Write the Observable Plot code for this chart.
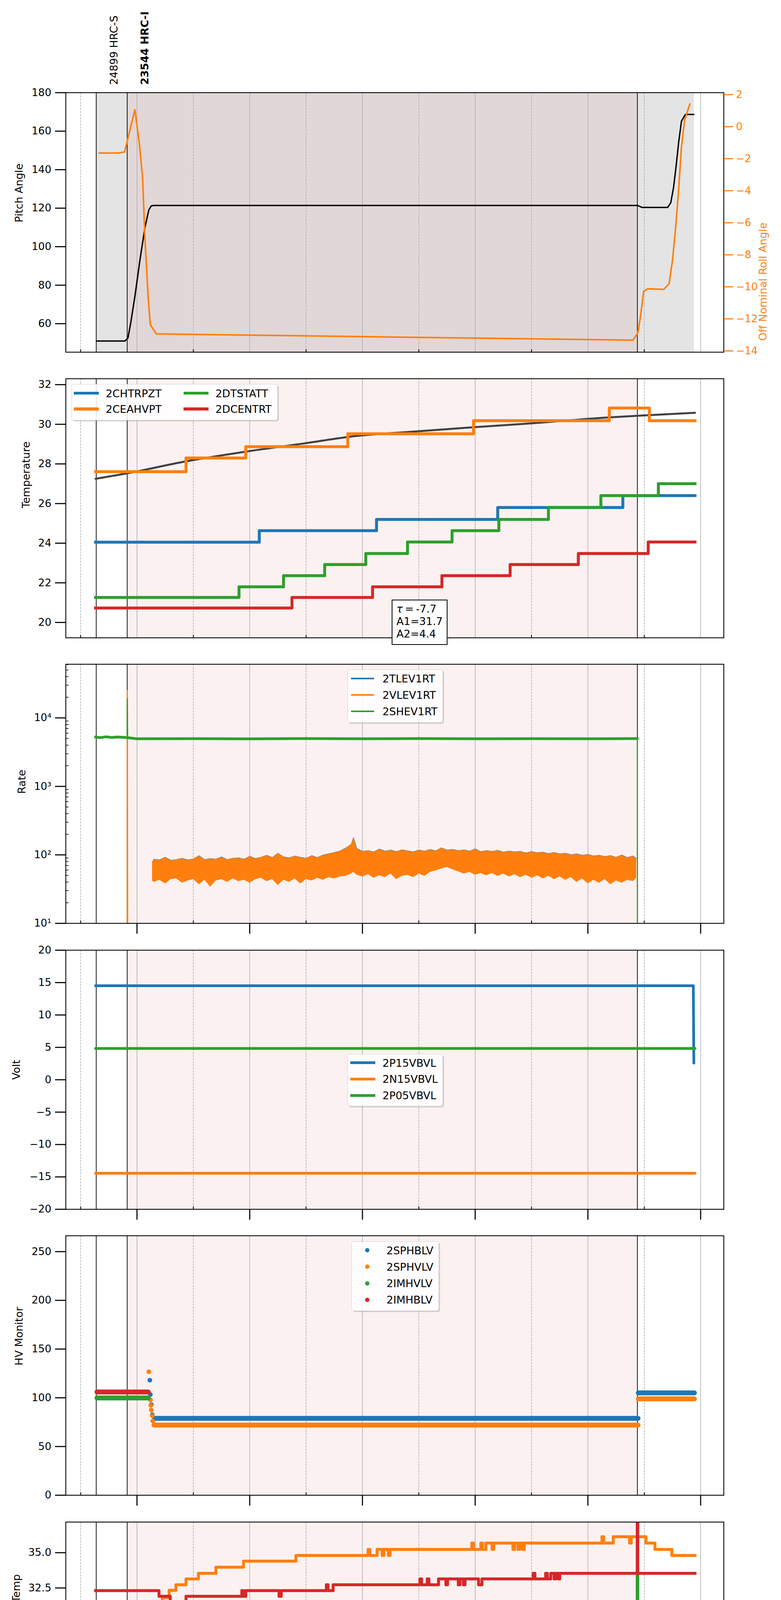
<!DOCTYPE html>
<html>
<head>
<meta charset="utf-8">
<script src="https://cdn.jsdelivr.net/npm/d3@7"></script>
<script src="https://cdn.jsdelivr.net/npm/@observablehq/plot@0.6"></script>
<style>
  html, body { margin: 0; padding: 0; background: #ffffff; }
  #fig { position: relative; width: 2000px; height: 5400px; font-family: "DejaVu Sans", sans-serif; color: #000; overflow: hidden; background: #fff; }
  #fig > svg { position: absolute; left: 0; }
  .lgbox { position: absolute; box-sizing: border-box; background: rgba(255,255,255,0.86); border: 1.5px solid #d2d2d2; border-radius: 6px; box-shadow: 3px 3px 0 rgba(140,140,140,0.35); }
  .lgtext { position: absolute; font-size: 27px; line-height: 27px; white-space: nowrap; }
  .lgh { position: absolute; }
  .tbox { position: absolute; box-sizing: border-box; background: #fff; border: 2px solid #000; }
</style>
</head>
<body>
<div id="fig"></div>
<script>
// ---------------- time axis (hours since 2020-12-15 00:00 UTC) ----------------
const X_DOMAIN = [18.737, 30.411];
const EVEN_H = [20, 22, 24, 26, 28, 30];
const ODD_H = [19, 21, 23, 25, 27, 29];
const MAJOR_LABELS = ["20h", "22h", "00h", "02h", "04h", "06h"];
const MINOR_LABELS = ["19h", "21h", "23h", "01h", "03h", "05h"];
const X_LABEL = "2020-12-16 (351)";

// observations
const OBS_LABELS = ["24899 HRC-S", "23544 HRC-I"];
const OBS_START = [19.277, 19.826];
const OBS_BOLD = [false, true];
const OBS_LINES = [19.277, 19.826, 28.878];
const HRCI_SPAN = [19.826, 28.878];
const SPAN_ALL = [19.277, 29.884];

// ---------------- panel 1: pitch / roll ----------------
const PITCH = [[19.283,51.0],[19.786,51.0],[19.84,52.6],[19.89,60.6],[19.963,74.2],[20.05,92.6],[20.14,109.8],[20.21,119.1],[20.254,121.2],[20.30,121.4],[28.885,121.4],[28.956,120.4],[29.415,120.4],[29.47,122.8],[29.52,130.8],[29.565,141.8],[29.61,154.2],[29.66,165.2],[29.73,168.7],[29.88,168.7]];
const ROLL = [[19.327,-1.65],[19.67,-1.65],[19.78,-1.58],[19.963,1.05],[20.04,-0.99],[20.10,-3.21],[20.14,-6.90],[20.20,-10.75],[20.237,-12.37],[20.343,-12.94],[28.797,-13.33],[28.885,-12.89],[28.93,-11.93],[28.99,-10.27],[29.06,-10.13],[29.345,-10.16],[29.44,-9.81],[29.50,-8.38],[29.557,-6.31],[29.61,-3.94],[29.66,-1.28],[29.716,0.42],[29.81,1.42]];
const PITCH_TICKS = [60, 80, 100, 120, 140, 160, 180];
const ROLL_TICKS = [2, 0, -2, -4, -6, -8, -10, -12, -14];

// ---------------- panel 2: temperature ----------------
const CHTRPZT = [[19.265,24.05],[22.17,24.63],[24.25,25.20],[26.40,25.80],[28.62,26.40],[29.90,26.40]];
const CEAHVPT = [[19.265,27.61],[20.87,28.30],[21.93,28.87],[23.74,29.52],[25.97,30.18],[28.38,30.82],[29.09,30.18],[29.90,30.18]];
const DTSTATT = [[19.265,21.26],[21.81,21.80],[22.60,22.36],[23.33,22.92],[24.06,23.48],[24.80,24.06],[25.59,24.63],[26.42,25.20],[27.30,25.80],[28.23,26.40],[29.25,27.00],[29.90,27.00]];
const DCENTRT = [[19.265,20.73],[22.75,21.26],[24.18,21.80],[25.41,22.36],[26.62,22.92],[27.83,23.48],[29.07,24.06],[29.90,24.06]];
const FIT = [[19.265,27.25],[19.83,27.53],[20.87,28.13],[21.93,28.62],[23.0,29.05],[23.74,29.36],[24.9,29.63],[25.97,29.85],[27.0,30.05],[28.38,30.35],[29.09,30.46],[29.9,30.58]];
const FIT_TEXT = ["τ\u2009=\u2009-7.7", "A1=31.7", "A2=4.4"];
const TEMP_TICKS = [20, 22, 24, 26, 28, 30, 32];

// ---------------- panel 3: rates ----------------
const VLEV_T = [20.27,20.3,20.4,20.5,20.6,20.7,20.8,20.9,21.0,21.1,21.2,21.3,21.4,21.5,21.6,21.7,21.8,21.9,22.0,22.1,22.2,22.3,22.4,22.5,22.6,22.7,22.8,22.9,23.0,23.1,23.2,23.3,23.4,23.5,23.6,23.7,23.8,23.84,23.9,24.0,24.1,24.2,24.3,24.4,24.5,24.6,24.7,24.8,24.9,25.0,25.1,25.2,25.3,25.4,25.5,25.6,25.7,25.8,25.9,26.0,26.1,26.2,26.3,26.4,26.5,26.6,26.7,26.8,26.9,27.0,27.1,27.2,27.3,27.4,27.5,27.6,27.7,27.8,27.9,28.0,28.1,28.2,28.3,28.4,28.5,28.6,28.7,28.8,28.86];
const VLEV_HI = [78, 86,84,92,83,85,89,84,87,97,85, 88,86,93,85,89,90,86,95,88,92, 98,91,105,93,90,96,92,89,97,91, 99,103,108,113,125,142, 178, 124,112,115,110,121,113,117,111,118,114, 110,117,113,119,114,126,117,120,115,118, 113,122,111,115,112,116,109,113,110,112, 106,111,107,109,104,108,103,105,100,103, 98,101,96,98,94,97,92,99,91,96, 88];
const VLEV_LO = [42, 40,43,38,44,45,39,42,44,37,43, 34,42,44,40,45,41,43,39,44,46, 41,44,36,43,40,45,38,44,42,46, 43,47,45,48,49,53, 56, 51,48,52,46,50,47,53,44,49,51, 47,53,49,56,59,63,66,61,57,53, 56,51,54,50,54,49,53,48,52,47, 51,46,50,45,49,44,48,43,47,40, 45,38,43,39,44,37,42,39,43,41, 46];
const VLEV_SPIKE = [[19.826,1],[19.828,25000],[19.836,1]];
const SHEV = [[19.265,5250],[19.35,5150],[19.45,5300],[19.55,5180],[19.65,5260],[19.75,5200],[19.826,5150],[20.0,4950],[21.0,4980],[22.0,4940],[23.0,4990],[24.0,4960],[25.0,4990],[26.0,4950],[27.0,4980],[28.0,4960],[28.877,4990]];
const SHEV_SPIKE = [[19.826,5150],[19.828,19000],[19.834,4950]];
const SHEV_DROP = [[28.877,4990],[28.879,1]];
const RATE_TICKS = [10, 100, 1000, 10000];
const RATE_LABELS = ["10¹", "10²", "10³", "10⁴"];
const RATE_MINOR = [20,30,40,50,60,70,80,90,200,300,400,500,600,700,800,900,2000,3000,4000,5000,6000,7000,8000,9000,20000,30000,40000,50000,60000];

// ---------------- panel 4: volts ----------------
const P15VBVL = [[19.265,14.51],[29.87,14.51],[29.88,2.58]];
const N15VBVL = [[19.265,-14.43],[29.90,-14.43]];
const P05VBVL = [[19.265,4.84],[29.90,4.84]];
const VOLT_TICKS = [-20, -15, -10, -5, 0, 5, 10, 15, 20];

// ---------------- panel 5: HV monitor ----------------
const SPHBLV_RUNS = [[[20.31,78.9],[28.89,78.9]], [[28.895,105.0],[29.89,105.0]]];
const SPHBLV_PTS = [[20.228,118.1],[20.237,103.3],[20.254,93.0],[20.272,82.6]];
const SPHVLV_RUNS = [[[20.30,72.0],[28.89,72.0]], [[28.895,98.9],[29.89,98.9]]];
const SPHVLV_PTS = [[20.21,126.7],[20.237,97.9],[20.246,92.2],[20.254,87.4],[20.272,81.6],[20.28,76.2]];
const IMHVLV_RUNS = [[[19.29,99.8],[20.20,99.8]]];
const IMHBLV_RUNS = [[[19.29,106.0],[20.20,106.0]]];
const HV_TICKS = [0, 50, 100, 150, 200, 250];

// ---------------- panel 6: detector temperatures ----------------
const SPINATM = [[19.265,19.62],[20.49,20.31],[20.53,19.62],[20.57,20.31],[20.60,19.62],[20.65,20.31],[22.97,21.03],[24.73,21.71],[26.26,22.49],[26.30,21.71],[26.48,22.43],[28.27,23.14],[28.875,24.55],[28.885,23.14],[29.90,23.14]];
const SPHVATM = [[19.265,31.51],[20.27,31.11],[20.35,31.51],[20.45,31.82],[20.57,32.33],[20.69,32.73],[20.87,33.14],[21.09,33.54],[21.40,33.97],[21.89,34.40],[22.82,34.80],[24.10,35.23],[24.13,34.80],[24.26,35.23],[24.35,34.80],[24.38,35.23],[24.46,34.80],[24.49,35.23],[25.94,35.68],[25.97,35.23],[26.10,35.68],[26.13,35.23],[26.19,35.68],[26.30,35.23],[26.33,35.68],[26.67,35.23],[26.70,35.68],[26.76,35.23],[26.79,35.68],[26.84,35.23],[26.87,35.68],[28.25,36.13],[28.28,35.68],[28.45,36.13],[28.74,35.68],[28.77,36.13],[29.03,35.68],[29.19,35.23],[29.49,34.80],[29.90,34.80]];
const IMINATM = [[19.265,21.0],[21.91,21.70],[23.38,22.41],[24.69,23.16],[26.01,23.89],[27.28,24.64],[27.31,23.89],[27.41,24.64],[28.875,33.5],[28.885,24.64],[28.93,25.41],[29.90,25.41]];
const IMHVATM = [[19.265,32.31],[20.39,31.91],[20.59,31.51],[20.87,31.91],[21.86,32.31],[21.89,31.91],[21.93,32.31],[22.52,31.91],[22.56,32.31],[23.36,32.73],[23.39,32.31],[23.48,32.73],[25.02,33.14],[25.05,32.73],[25.15,33.14],[25.18,32.73],[25.35,33.14],[25.48,32.73],[25.51,33.14],[25.70,32.73],[25.73,33.14],[25.79,32.73],[25.82,33.14],[26.06,32.73],[26.12,33.14],[27.03,33.54],[27.06,33.14],[27.25,33.54],[27.28,33.14],[27.34,33.54],[27.40,33.14],[27.43,33.54],[27.47,33.14],[27.50,33.54],[28.875,39],[28.885,33.54],[29.90,33.54]];
const DET_TICKS = [20, 22.5, 25, 27.5, 30, 32.5, 35];

// ---------------- panel 7: FEA temperatures ----------------
const FHTRMZT = [[19.265,23.47],[20.70,24.04],[21.14,24.63],[21.60,25.21],[22.07,25.80],[22.58,26.41],[23.10,27.00],[23.67,27.62],[24.29,28.24],[24.94,28.87],[25.68,29.51],[26.46,30.16],[27.31,30.82],[28.27,31.49],[29.565,32.1],[29.71,31.49],[29.90,31.49]];
const FRADPYT = [[19.265,20.6],[21.005,21.26],[21.36,21.81],[21.765,22.37],[22.23,22.91],[22.73,23.47],[23.26,24.04],[23.83,24.63],[24.45,25.21],[25.10,25.80],[25.84,26.41],[26.61,27.00],[27.47,27.62],[28.42,28.24],[29.57,27.62],[29.90,27.62]];
const FEPRATM = [[19.265,25.39],[19.645,24.63],[20.51,25.39],[21.25,26.18],[21.94,26.97],[22.73,27.77],[23.57,28.58],[24.53,29.43],[25.62,30.26],[26.84,31.12],[28.29,31.95],[29.90,31.95]];
const FE00ATM = [[19.265,22.97],[20.387,23.31],[20.466,22.97],[20.49,23.31],[20.70,23.62],[20.80,24.31],[20.825,23.62],[21.02,23.96],[21.24,24.31],[21.265,23.96],[21.33,24.27],[21.38,24.64],[21.405,24.27],[21.67,24.63],[21.69,24.99],[21.715,24.63],[22.02,24.97],[22.14,25.66],[22.165,24.97],[22.20,24.60],[22.225,24.97],[22.27,25.66],[22.295,24.97],[22.39,25.30],[22.63,25.66],[22.655,25.30],[22.77,25.62],[22.82,26.00],[22.845,25.62],[23.17,25.99],[23.26,23.91],[23.285,25.99],[23.52,25.58],[23.545,25.99],[23.57,26.32],[23.85,26.71],[23.875,26.32],[23.96,25.91],[23.985,26.32],[24.00,26.69],[24.11,25.58],[24.135,26.69],[24.22,27.05],[24.245,26.69],[24.47,27.03],[24.50,27.79],[24.525,27.03],[24.58,26.65],[24.605,27.03],[24.69,26.25],[24.715,27.03],[24.82,27.40],[24.845,27.03],[24.94,27.40],[25.00,28.13],[25.025,27.40],[25.27,28.13],[25.295,27.40],[25.38,28.87],[25.405,27.40],[25.44,27.75],[25.60,26.65],[25.625,27.75],[25.79,29.25],[25.815,27.75],[25.95,28.87],[25.975,27.75],[26.01,28.12],[26.19,28.87],[26.215,28.12],[26.37,27.34],[26.395,28.12],[26.42,27.70],[26.445,28.12],[26.59,28.46],[26.70,26.97],[26.725,28.46],[26.90,29.05],[26.925,28.46],[26.97,29.25],[26.995,28.46],[27.14,28.83],[27.30,28.08],[27.325,28.83],[27.65,30.00],[27.675,28.83],[27.80,28.08],[27.825,29.21],[27.91,28.46],[27.935,29.21],[28.22,28.79],[28.245,29.21],[28.56,29.57],[28.80,30.38],[28.825,29.57],[28.875,32.5],[28.9,29.57],[29.90,29.57]];
const FEA_TICKS = [22, 24, 26, 28, 30];

// ---------------- layout ----------------
const fig = document.getElementById("fig");
const W = 2000, ML = 168, MR = 147;
const FW = W - ML - MR;
const PANELS = [[236.7, 901.1], [969.2, 1632.5], [1700, 2363.3], [2432, 3095.3], [3163.4, 3827.7], [3895.8, 4559.1], [4627.5, 5291.3]];
const COL = {blue: "#1f77b4", orange: "#ff7f0e", green: "#2ca02c", red: "#d62728"};
const T0 = Date.UTC(2020, 11, 15);
const H = h => new Date(T0 + h * 3600000);
const pts = a => a.map(([t, v]) => ({t: H(t), v}));
const minus = d => (d < 0 ? "\u2212" + Math.abs(d) : String(d));

function bgMarks(grey) {
  return [
    grey ? Plot.rect([0], {x1: () => H(SPAN_ALL[0]), x2: () => H(SPAN_ALL[1]), fill: "#000", fillOpacity: 0.105}) : null,
    Plot.rect([0], {x1: () => H(HRCI_SPAN[0]), x2: () => H(HRCI_SPAN[1]), fill: COL.red, fillOpacity: 0.065}),
    Plot.ruleX(EVEN_H, {x: H, stroke: "#b0b0b0", strokeWidth: 1.6}),
    Plot.ruleX(ODD_H, {x: H, stroke: "#b0b0b0", strokeWidth: 1.6, strokeDasharray: "5.5,2.4"}),
    Plot.ruleX(OBS_LINES, {x: H, stroke: "#000", strokeWidth: 1.8})
  ];
}
function frameMarks(fh, major) {
  return [
    Plot.ruleX(ODD_H, {x: H, insetTop: fh - 7, stroke: "#000", strokeWidth: 2}),
    major ? Plot.ruleX(EVEN_H, {x: H, insetTop: fh, insetBottom: -27, stroke: "#000", strokeWidth: 2.8}) : null,
    Plot.frame({stroke: "#000", strokeWidth: 2.2})
  ];
}
function yAxis(ticks, fmt) {
  return Plot.axisY({ticks, tickFormat: fmt, tickSize: 27, tickPadding: 10, fontSize: 26.5, strokeWidth: 2.8, label: null});
}
function yLabel(text, cx) {
  return Plot.text([text], {text: d => d, frameAnchor: "left", rotate: -90, dx: cx - ML, lineAnchor: "middle", fontSize: 27});
}
function stepLine(data, color, w) {
  return Plot.line(pts(data), {x: "t", y: "v", stroke: color, strokeWidth: w, curve: "step-after", strokeLinejoin: "round", strokeLinecap: "square", clip: true});
}
function addPlot(pi, {mt = 40, mb = 60, y, marks}) {
  const [top, bottom] = PANELS[pi];
  const fh = bottom - top;
  const svg = Plot.plot({
    width: W, height: mt + fh + mb,
    marginLeft: ML, marginRight: MR, marginTop: mt, marginBottom: mb,
    x: {type: "utc", domain: [H(X_DOMAIN[0]), H(X_DOMAIN[1])], axis: null},
    y: {...y, axis: null},
    style: {fontFamily: "DejaVu Sans", fontSize: "26.5px", background: "transparent", color: "#000", overflow: "visible"},
    marks: typeof marks === "function" ? marks(fh) : marks
  });
  svg.style.position = "absolute";
  svg.style.left = "0px";
  svg.style.top = (top - mt) + "px";
  fig.appendChild(svg);
}

// ---- panel 1 ----
addPlot(0, {mt: PANELS[0][0], y: {domain: [45.2, 180]}, marks: fh => [
  ...bgMarks(true),
  Plot.line(pts(PITCH), {x: "t", y: "v", stroke: "#000", strokeWidth: 3.5, clip: true}),
  yAxis(PITCH_TICKS),
  yLabel("Pitch Angle", 48.5),
  Plot.text([0, 1].filter(i => !OBS_BOLD[i]), {x: i => H(OBS_START[i]), text: i => OBS_LABELS[i], frameAnchor: "top", dy: -20, dx: 46, rotate: -90, textAnchor: "start", lineAnchor: "middle", fontSize: 27}),
  Plot.text([0, 1].filter(i => OBS_BOLD[i]), {x: i => H(OBS_START[i]), text: i => OBS_LABELS[i], frameAnchor: "top", dy: -20, dx: 46, rotate: -90, textAnchor: "start", lineAnchor: "middle", fontSize: 27, fontWeight: "bold"}),
  ...frameMarks(fh, false)
]});
addPlot(0, {mt: PANELS[0][0], y: {domain: [-14.08, 2.12]}, marks: [
  Plot.line(pts(ROLL), {x: "t", y: "v", stroke: COL.orange, strokeWidth: 4, clip: true}),
  Plot.axisY({anchor: "right", ticks: ROLL_TICKS, tickFormat: minus, tickSize: 24, tickPadding: 7, fontSize: 26.5, strokeWidth: 2.8, stroke: COL.orange, fill: COL.orange, label: null}),
  Plot.text(["Off Nominal Roll Angle"], {text: d => d, frameAnchor: "right", rotate: -90, dx: 101, lineAnchor: "middle", fontSize: 27, fill: COL.orange})
]});

// ---- panel 2 ----
addPlot(1, {y: {domain: [19.225, 32.30]}, marks: fh => [
  ...bgMarks(false),
  Plot.line(pts(FIT), {x: "t", y: "v", stroke: "#404040", strokeWidth: 5, curve: "monotone-x", clip: true}),
  stepLine(CHTRPZT, COL.blue, 7.5),
  stepLine(CEAHVPT, COL.orange, 7.5),
  stepLine(DTSTATT, COL.green, 7.5),
  stepLine(DCENTRT, COL.red, 7.5),
  yAxis(TEMP_TICKS),
  yLabel("Temperature", 66.4),
  ...frameMarks(fh, false)
]});

// ---- panel 3 ----
const vlev = VLEV_T.map((t, i) => ({t: H(t), lo: VLEV_LO[i], hi: VLEV_HI[i]}));
addPlot(2, {y: {type: "log", domain: [10, 60700]}, marks: fh => [
  ...bgMarks(false),
  Plot.line(vlev, {x: "t", y: "hi", stroke: COL.blue, strokeWidth: 1.2, dy: -0.6, clip: true}),
  Plot.line(pts(VLEV_SPIKE), {x: "t", y: "v", stroke: COL.orange, strokeWidth: 3, clip: true}),
  Plot.areaY(vlev, {x: "t", y1: "lo", y2: "hi", fill: COL.orange, clip: true}),
  Plot.line(pts(SHEV), {x: "t", y: "v", stroke: COL.green, strokeWidth: 7, clip: true}),
  Plot.line(pts(SHEV_SPIKE), {x: "t", y: "v", stroke: COL.green, strokeWidth: 3, clip: true}),
  Plot.line(pts(SHEV_DROP), {x: "t", y: "v", stroke: COL.green, strokeWidth: 3, clip: true}),
  Plot.ruleY(RATE_MINOR, {y: d => d, insetRight: FW - 7.5, stroke: "#000", strokeWidth: 1.6}),
  yAxis(RATE_TICKS, d => RATE_LABELS[RATE_TICKS.indexOf(d)]),
  yLabel("Rate", 56.2),
  ...frameMarks(fh, true)
]});

// ---- panel 4 ----
addPlot(3, {y: {domain: [-20, 20]}, marks: fh => [
  ...bgMarks(false),
  Plot.line(pts(P15VBVL), {x: "t", y: "v", stroke: COL.blue, strokeWidth: 7, clip: true}),
  Plot.line(pts(N15VBVL), {x: "t", y: "v", stroke: COL.orange, strokeWidth: 7, clip: true}),
  Plot.line(pts(P05VBVL), {x: "t", y: "v", stroke: COL.green, strokeWidth: 7, clip: true}),
  yAxis(VOLT_TICKS, minus),
  yLabel("Volt", 42.1),
  ...frameMarks(fh, true)
]});

// ---- panel 5 ----
const runMarks = (runs, color) => runs.map(r => Plot.line(pts(r), {x: "t", y: "v", stroke: color, strokeWidth: 12.5, strokeLinecap: "round", clip: true}));
addPlot(4, {y: {domain: [0, 266.3]}, marks: fh => [
  ...bgMarks(false),
  ...runMarks(SPHBLV_RUNS, COL.blue),
  Plot.dot(pts(SPHBLV_PTS), {x: "t", y: "v", r: 6, fill: COL.blue, clip: true}),
  ...runMarks(SPHVLV_RUNS, COL.orange),
  Plot.dot(pts(SPHVLV_PTS), {x: "t", y: "v", r: 6, fill: COL.orange, clip: true}),
  ...runMarks(IMHVLV_RUNS, COL.green),
  ...runMarks(IMHBLV_RUNS, COL.red),
  yAxis(HV_TICKS),
  yLabel("HV Monitor", 48.5),
  ...frameMarks(fh, true)
]});

// ---- panel 6 ----
addPlot(5, {y: {domain: [18.81, 37.17]}, marks: fh => [
  ...bgMarks(false),
  stepLine(SPINATM, COL.blue, 7.5),
  stepLine(SPHVATM, COL.orange, 7.5),
  stepLine(IMINATM, COL.green, 7.5),
  stepLine(IMHVATM, COL.red, 7.5),
  yAxis(DET_TICKS, d3.format(".1f")),
  yLabel("Detector Temp", 42.1),
  ...frameMarks(fh, true)
]});

// ---- panel 7 ----
addPlot(6, {mb: 5400 - PANELS[6][1], y: {domain: [20.855, 31.757]}, marks: fh => [
  ...bgMarks(false),
  stepLine(FHTRMZT, COL.blue, 7.5),
  stepLine(FRADPYT, COL.orange, 7.5),
  stepLine(FEPRATM, COL.green, 7.5),
  stepLine(FE00ATM, COL.red, 7.5),
  yAxis(FEA_TICKS),
  yLabel("FEA Temp", 66.4),
  ...frameMarks(fh, true),
  Plot.text(EVEN_H, {x: H, text: (d, i) => MAJOR_LABELS[i], frameAnchor: "bottom", lineAnchor: "top", dy: 38, fontSize: 27}),
  Plot.text(ODD_H, {x: H, text: (d, i) => MINOR_LABELS[i], frameAnchor: "bottom", lineAnchor: "top", dy: 8, fontSize: 17.5}),
  Plot.text([X_LABEL], {text: d => d, frameAnchor: "bottom", lineAnchor: "top", dy: 76, fontSize: 31})
]});

// ---------------- legends (HTML overlays) ----------------
function el(cls, css, html) {
  const d = document.createElement("div");
  d.className = cls;
  Object.assign(d.style, css);
  if (html !== undefined) d.innerHTML = html;
  fig.appendChild(d);
  return d;
}
const px = v => v + "px";
function legend(box, rows, {kind = "line", len = 64, thick = 7.5, r = 5.5} = {}) {
  el("lgbox", {left: px(box[0]), top: px(box[1]), width: px(box[2] - box[0]), height: px(box[3] - box[1])});
  rows.forEach(([label, color, hx, y, tx]) => {
    if (kind === "dot") {
      el("lgh", {left: px(hx - r), top: px(y - r), width: px(2 * r), height: px(2 * r), borderRadius: "50%", background: color});
    } else {
      el("lgh", {left: px(hx), top: px(y - thick / 2), width: px(len), height: px(thick), background: color});
    }
    el("lgtext", {left: px(tx), top: px(y - 13)}, label);
  });
}
legend([182.6, 982.7, 711, 1076.4], [
  ["2CHTRPZT", COL.blue, 189, 1006.5, 270.8],
  ["2CEAHVPT", COL.orange, 189, 1047.2, 270.8],
  ["2DTSTATT", COL.green, 470, 1006.5, 551.7],
  ["2DCENTRT", COL.red, 470, 1047.2, 551.7]
]);
legend([890, 1713.5, 1134, 1850], [
  ["2TLEV1RT", COL.blue, 899, 1737.4, 979.6],
  ["2VLEV1RT", COL.orange, 899, 1779, 979.6],
  ["2SHEV1RT", COL.green, 899, 1820.7, 979.6]
], {len: 59, thick: 4});
legend([890, 2697.8, 1134, 2831.9], [
  ["2P15VBVL", COL.blue, 896.6, 2720.8, 979.6],
  ["2N15VBVL", COL.orange, 896.6, 2762.4, 979.6],
  ["2P05VBVL", COL.green, 896.6, 2804.1, 979.6]
], {thick: 7});
legend([900.4, 3177.8, 1123.9, 3355.9], [
  ["2SPHBLV", COL.blue, 940, 3200.8, 989.8],
  ["2SPHVLV", COL.orange, 940, 3242.9, 989.8],
  ["2IMHVLV", COL.green, 940, 3285.1, 989.8],
  ["2IMHBLV", COL.red, 940, 3327.2, 989.8]
], {kind: "dot"});
legend([890.2, 4141, 1136.7, 4315.8], [
  ["2SPINATM", COL.blue, 896.6, 4163.5, 977],
  ["2SPHVATM", COL.orange, 896.6, 4205.2, 977],
  ["2IMINATM", COL.green, 896.6, 4246.9, 977],
  ["2IMHVATM", COL.red, 896.6, 4288.5, 977]
], {len: 61});
legend([887.6, 5102, 1136.7, 5278.4], [
  ["2FHTRMZT", COL.blue, 894, 5125.5, 974.5],
  ["2FRADPYT", COL.orange, 894, 5167.8, 974.5],
  ["2FEPRATM", COL.green, 894, 5209.1, 974.5],
  ["2FE00ATM", COL.red, 894, 5251.5, 974.5]
]);

// fit-parameter box
el("tbox", {left: px(1002.6), top: px(1535.2), width: px(143), height: px(115.5)});
[1558.2, 1590.3, 1622].forEach((y, i) => {
  const t = FIT_TEXT[i].replace("τ", '<span style="font-style:italic">τ</span>');
  el("lgtext", {left: px(1015.3), top: px(y - 13)}, t);
});
</script>
</body>
</html>
